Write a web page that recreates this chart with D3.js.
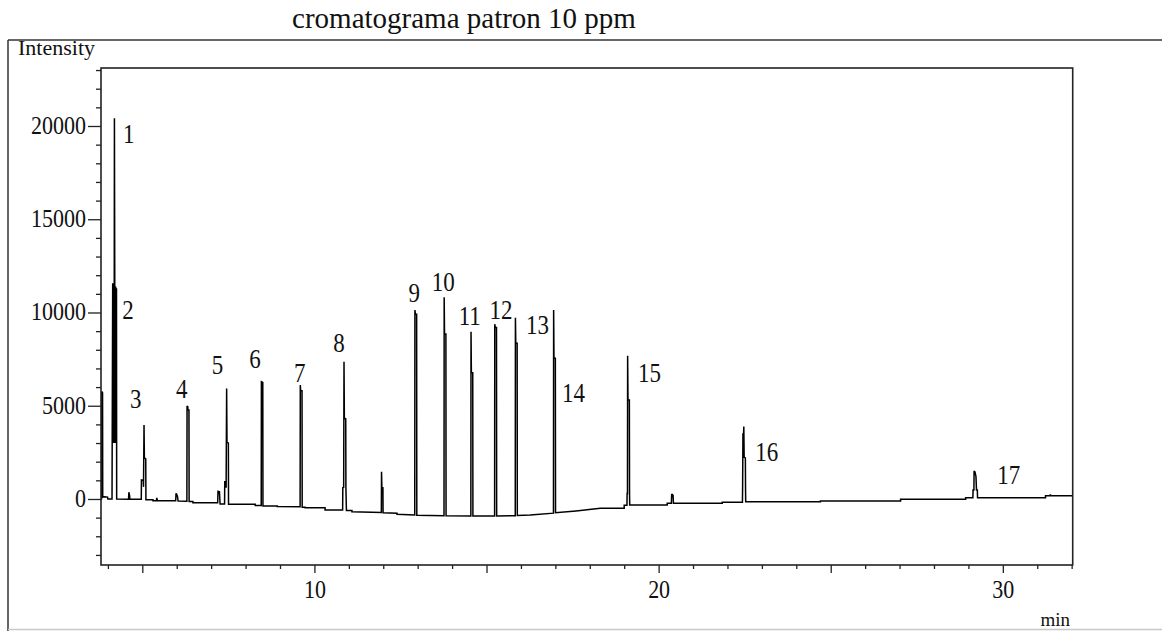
<!DOCTYPE html>
<html>
<head>
<meta charset="utf-8">
<script src="https://cdnjs.cloudflare.com/ajax/libs/d3/7.8.5/d3.min.js"></script>
<style>
  body { margin: 0; background: #fff; }
  svg { display: block; font-family: "Liberation Serif", "Times New Roman", serif; }
</style>
</head>
<body>
<svg id="chart" width="1162" height="631"></svg>
<script>
// trace: retention time (min) and signal
var retentionTime = [
  3.80, 3.815, 3.82, 3.845, 3.85, 3.90, 3.99, 4.00,
  4.12, 4.125, 4.14, 4.15, 4.165, 4.18, 4.19, 4.20, 4.215, 4.225, 4.24, 4.25, 4.255,
  4.60, 4.61, 4.63, 4.64,
  4.97, 4.975, 5.03, 5.035, 5.05, 5.06, 5.10, 5.105,
  5.31, 5.31, 5.41, 5.42, 5.44,
  5.97, 5.98, 6.00, 6.02, 6.04,
  6.295, 6.30, 6.32, 6.325, 6.355, 6.36, 6.47, 6.47,
  7.19, 7.20, 7.22, 7.24, 7.26,
  7.39, 7.395, 7.43, 7.435, 7.45, 7.46, 7.50, 7.505, 8.28, 8.28,
  8.455, 8.46, 8.50, 8.505, 8.92, 8.92,
  9.585, 9.59, 9.60, 9.64, 9.645, 9.73, 9.73, 10.31, 10.31,
  10.82, 10.825, 10.85, 10.86, 10.87, 10.91, 10.915, 10.93, 11.09, 11.09,
  11.945, 11.95, 11.96, 11.99, 11.995, 12.40, 12.40,
  12.915, 12.92, 12.935, 12.97, 12.975,
  13.765, 13.77, 13.78, 13.82, 13.825,
  14.545, 14.55, 14.56, 14.60, 14.605,
  15.235, 15.24, 15.255, 15.29, 15.295,
  15.835, 15.84, 15.85, 15.89, 15.895, 16.27,
  16.945, 16.95, 16.96, 17.00, 17.005, 17.60, 18.31, 19.00, 19.00,
  19.08, 19.085, 19.095, 19.10, 19.11, 19.15, 19.155, 19.16, 20.25, 20.25,
  20.37, 20.38, 20.42, 20.43, 21.85, 21.85,
  22.435, 22.44, 22.45, 22.46, 22.475, 22.485, 22.52, 22.525, 22.53, 24.70, 24.70,
  27.03, 27.03, 28.92, 28.92,
  29.13, 29.135, 29.16, 29.165, 29.19, 29.22, 29.235, 29.26, 29.265, 31.24, 31.24,
  31.37, 31.38, 31.40, 32.05
];
var intensity = [
  0, 0, 5760, 5700, 100, 120, 100, 0,
  0, 2900, 11570, 3000, 11500, 3000, 20410, 11400, 3000, 11400, 3000, 11300, 0,
  -10, 360, 200, -10,
  -20, 1020, 1000, 650, 3970, 2210, 2150, -40,
  -40, -90, -90, 60, -90,
  -100, 300, 250, 150, -110,
  -120, 4990, 4950, 4770, 4770, -140, -140, -200,
  -200, 450, 250, 420, -270,
  -270, 930, 930, 600, 5930, 3040, 3000, -280, -280, -350,
  -350, 6290, 6250, -370, -370, -410,
  -420, 6110, 5800, 5800, -440, -440, -470, -470, -590,
  -590, 630, 600, 7360, 4330, 4300, 630, -620, -620, -680,
  -720, 1460, 600, 600, -740, -760, -820,
  -860, 10130, 9900, 9900, -870,
  -900, 10815, 8850, 8850, -900,
  -910, 8970, 6770, 6770, -910,
  -910, 9370, 9190, 9190, -910,
  -900, 9720, 8350, 8350, -890, -860,
  -760, 10130, 7540, 7540, -740, -640, -500, -500, -330,
  -330, 300, 300, 7680, 5310, 5310, 300, -320, -320, -230,
  -230, 270, 200, -230, -230, -180,
  -180, 590, 3520, 3000, 3880, 2240, 2200, 590, -150, -150, -107,
  -107, -16, -16, 70,
  70, 480, 480, 1500, 1450, 1200, 480, 480, 70, 70, 177,
  177, 240, 177, 177
];

// peak numbers and where their labels sit (time, signal)
var peakNames = ['1', '2', '3', '4', '5', '6', '7', '8', '9', '10', '11', '12', '13', '14', '15', '16', '17'];
var peakLabelTime = [4.44, 4.42, 4.64, 5.98, 7.02, 8.11, 9.41, 10.55, 12.73, 13.41, 14.19, 15.09, 16.15, 17.19, 19.40, 22.81, 29.84];
var peakLabelSignal = [19090, 9640, 4880, 5430, 6700, 7010, 6290, 7900, 10580, 11170, 9330, 9640, 8850, 5220, 6290, 2050, 800];

var xLabelValues = [10, 20, 30];
var yLabelValues = [0, 5000, 10000, 15000, 20000];

var svg = d3.select('#chart');

var margin = {top: 68, right: 89.3, bottom: 66, left: 101},
    width = 1162 - margin.left - margin.right,
    height = 631 - margin.top - margin.bottom;

var x = d3.scaleLinear().domain([3.8, 32.03]).range([0, width]);
var y = d3.scaleLinear().domain([-3540, 23110]).range([height, 0]);

// outer frame of the printout
svg.append('line')
    .attr('x1', 8).attr('y1', 40).attr('x2', 8).attr('y2', 631)
    .attr('stroke', '#333').attr('stroke-width', 1.5);
svg.append('line')
    .attr('x1', 8).attr('y1', 40).attr('x2', 1162).attr('y2', 40)
    .attr('stroke', '#333').attr('stroke-width', 1.5);
svg.append('line')
    .attr('x1', 8).attr('y1', 629.5).attr('x2', 1162).attr('y2', 629.5)
    .attr('stroke', '#c8c8c8').attr('stroke-width', 1.5);

svg.append('text')
    .attr('x', 464).attr('y', 28)
    .attr('text-anchor', 'middle')
    .style('font-size', '29px')
    .attr('fill', '#111')
    .text('cromatograma patron 10 ppm');

svg.append('text')
    .attr('x', 18).attr('y', 55)
    .style('font-size', '22px')
    .attr('fill', '#111')
    .text('Intensity');

svg.append('text')
    .attr('x', 1070).attr('y', 626)
    .attr('text-anchor', 'end')
    .style('font-size', '19px')
    .attr('fill', '#111')
    .text('min');

var g = svg.append('g')
    .attr('transform', 'translate(' + margin.left + ',' + margin.top + ')');

g.append('clipPath')
    .attr('id', 'plot-clip')
    .append('rect')
    .attr('width', width)
    .attr('height', height);

// y axis, a tick every 1000 and a longer one every 5000
var yAxis = g.append('g')
    .call(d3.axisLeft(y)
        .tickValues(d3.range(-3000, 23001, 1000))
        .tickSize(5)
        .tickFormat(function(d) { return yLabelValues.indexOf(d) >= 0 ? d : ''; }));
yAxis.select('.domain').remove();
yAxis.selectAll('.tick line')
    .attr('x2', function(d) { return d % 5000 === 0 ? -13 : -5; })
    .attr('stroke', '#222').attr('stroke-width', 1.3);
yAxis.selectAll('.tick text')
    .attr('x', -15)
    .attr('dy', '0.3em')
    .attr('transform', 'scale(1,1.1)')
    .attr('fill', '#111')
    .style('font-size', '22px')
    .style('font-family', '"Liberation Serif", serif');

// x axis, a tick every minute and a longer one every 5
var xAxis = g.append('g')
    .attr('transform', 'translate(0,' + height + ')')
    .call(d3.axisBottom(x)
        .tickValues(d3.range(4, 33, 1))
        .tickSize(4)
        .tickFormat(function(d) { return xLabelValues.indexOf(d) >= 0 ? d : ''; }));
xAxis.select('.domain').remove();
xAxis.selectAll('.tick line')
    .attr('y2', function(d) { return d % 5 === 0 ? 8 : 4; })
    .attr('stroke', '#222').attr('stroke-width', 1.3);
xAxis.selectAll('.tick text')
    .attr('y', 30)
    .attr('dy', 0)
    .attr('transform', 'scale(1,1.1)')
    .attr('fill', '#111')
    .style('font-size', '22px')
    .style('font-family', '"Liberation Serif", serif');

// the trace
var line = d3.line()
    .x(function(i) { return x(retentionTime[i]); })
    .y(function(i) { return y(intensity[i]); });

g.append('path')
    .datum(d3.range(retentionTime.length))
    .attr('clip-path', 'url(#plot-clip)')
    .attr('d', line)
    .attr('fill', 'none')
    .attr('stroke', '#000')
    .attr('stroke-width', 1.5)
    .attr('stroke-linejoin', 'miter')
    .attr('stroke-miterlimit', 2);

// plot frame
g.append('rect')
    .attr('width', width)
    .attr('height', height)
    .attr('fill', 'none')
    .attr('stroke', '#222')
    .attr('stroke-width', 1.6);

// peak numbers
g.selectAll('.peak-label')
    .data(peakNames)
    .enter().append('text')
    .attr('class', 'peak-label')
    .attr('transform', function(d, i) {
        return 'translate(' + x(peakLabelTime[i]) + ',' + y(peakLabelSignal[i]) + ') scale(1,1.15)';
    })
    .style('font-size', '23px')
    .attr('fill', '#111')
    .text(function(d) { return d; });
</script>
</body>
</html>
